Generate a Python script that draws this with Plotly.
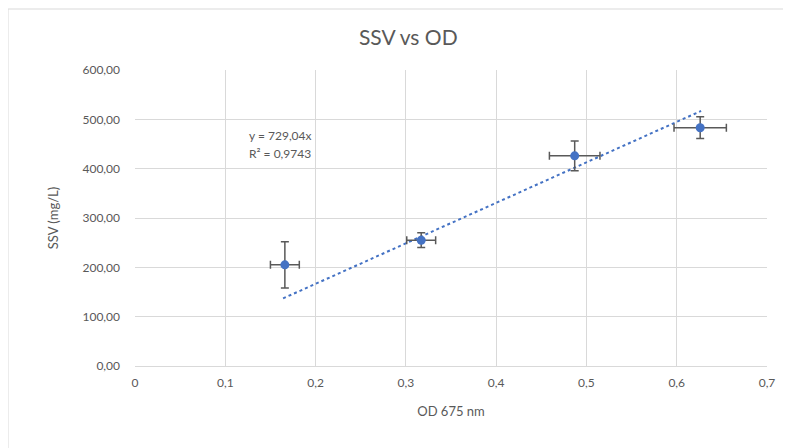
import plotly.graph_objects as go

# ── Data ──────────────────────────────────────────────────────────────
od = [0.166, 0.317, 0.487, 0.626]
ssv = [205, 255, 426, 483]
od_err = [0.016, 0.016, 0.028, 0.029]
ssv_err = [47, 15, 30, 22]

trend_x = [0.164, 0.627]
trend_y = [137, 517]

eq_lines = ["y = 729,04x", "R² = 0,9743"]
eq_y = [468, 430]

FONT = "Lato, Open Sans, sans-serif"
GREY = "#595959"
BLUE = "#4472C4"

# page is offset 8px by the body margin, so margins are shifted accordingly
ML, MR, MT, MB = 127, 32, 62, 90

fig = go.Figure()

fig.add_trace(go.Scatter(
    x=trend_x, y=trend_y, mode="lines",
    line=dict(color=BLUE, width=2, dash="dot"),
    hoverinfo="skip", showlegend=False,
))

fig.add_trace(go.Scatter(
    x=od, y=ssv, mode="markers",
    marker=dict(color=BLUE, size=9),
    error_x=dict(type="data", array=od_err, color=GREY, thickness=1.5, width=4),
    error_y=dict(type="data", array=ssv_err, color=GREY, thickness=1.5, width=4),
    showlegend=False,
))

for txt, yy in zip(eq_lines, eq_y):
    fig.add_annotation(
        x=0.124, y=yy, xref="x", yref="y", text=txt, showarrow=False,
        xanchor="left", yanchor="middle", align="left",
        font=dict(family=FONT, size=12, color=GREY),
    )

# outer chart border
fig.add_shape(
    type="rect", xref="paper", yref="paper",
    x0=-ML / 632, x1=1.2, y0=-0.5, y1=(448 - MB - 1) / 296,
    line=dict(color="#d9d9d9", width=1), layer="below",
)

fig.update_layout(
    width=791, height=448,
    margin=dict(l=ML, r=MR, t=MT, b=MB, autoexpand=False),
    paper_bgcolor="white", plot_bgcolor="white",
    separators=", ",
    title=dict(text="SSV vs OD", x=0.506, xanchor="center", y=0.933, yanchor="middle",
               font=dict(family=FONT, size=21, color=GREY)),
    font=dict(family=FONT, size=12, color=GREY),
)

fig.update_xaxes(
    range=[0, 0.7], dtick=0.1, tick0=0,
    showgrid=True, gridcolor="#d9d9d9", gridwidth=1,
    zeroline=False, showline=False, ticks="", ticklabelstandoff=8,
    title=dict(text="OD 675 nm", font=dict(family=FONT, size=13, color=GREY), standoff=17),
    tickfont=dict(family=FONT, size=12, color=GREY),
)
fig.update_yaxes(
    range=[0, 600], dtick=100, tickformat=".2f",
    showgrid=True, gridcolor="#d9d9d9", gridwidth=1,
    zeroline=True, zerolinecolor="#d9d9d9", zerolinewidth=1,
    showline=False, ticks="", ticklabelstandoff=14,
    title=dict(text="SSV (mg/L)", font=dict(family=FONT, size=13, color=GREY), standoff=20),
    tickfont=dict(family=FONT, size=12, color=GREY),
)

fig.write_html("out.html")
